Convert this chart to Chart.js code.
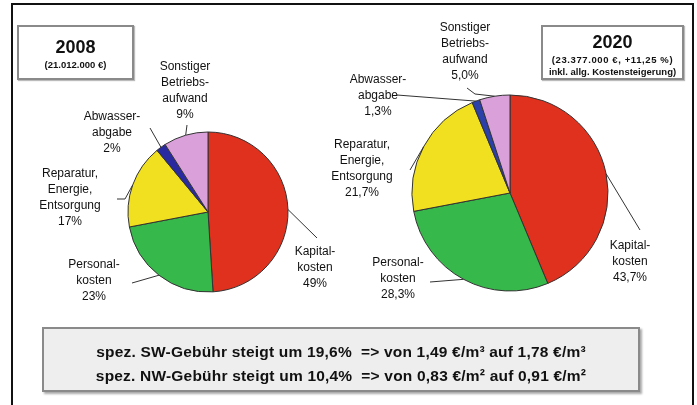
<!DOCTYPE html>
<html>
<head>
<meta charset="utf-8">
<script src="https://cdn.jsdelivr.net/npm/chart.js@4"></script>
<style>
  body { margin: 0; width: 697px; height: 405px; overflow: hidden; background: #fff; font-family: "Liberation Sans", Arial, sans-serif; position: relative; }
  canvas { position: absolute; left: 0; top: 0; }
  .frame { position: absolute; left: 11px; top: 3px; width: 679px; height: 420px; border: 2px solid #111; border-bottom: none; }
  .box { position: absolute; border: 2px solid #8a8a8a; background: #fff; box-shadow: 1px 1px 1px #bbb; }
  .box div { position: absolute; left: 0; right: 0; text-align: center; font-weight: bold; color: #111; white-space: nowrap; }
  .note { position: absolute; left: 42px; top: 327px; width: 594px; height: 50px; background: #eeeeee; border: 2px solid #8a8a8a; box-shadow: 2px 2px 2px #aaa; text-align: center; font-weight: bold; font-size: 15.5px; letter-spacing: 0.2px; line-height: 24px; color: #111; padding-top: 11px; box-sizing: content-box; white-space: nowrap; }
</style>
</head>
<body>
<div class="frame"></div>
<canvas id="pie2008" width="697" height="405"></canvas>
<canvas id="pie2020" width="697" height="405"></canvas>

<div class="box" style="left:17px;top:25px;width:113px;height:51px;">
  <div style="top:10px;font-size:18px;">2008</div>
  <div style="top:32px;font-size:9.5px;">(21.012.000 €)</div>
</div>
<div class="box" style="left:541px;top:25px;width:139px;height:51px;">
  <div style="top:5px;font-size:18px;">2020</div>
  <div style="top:27px;font-size:9.5px;letter-spacing:0.6px;">(23.377.000 €, +11,25 %)</div>
  <div style="top:39px;font-size:9.5px;">inkl. allg. Kostensteigerung)</div>
</div>

<div class="note">
  spez. SW-Gebühr steigt um 19,6% &nbsp;=&gt; von 1,49 €/m³ auf 1,78 €/m³<br>
  spez. NW-Gebühr steigt um 10,4% &nbsp;=&gt; von 0,83 €/m² auf 0,91 €/m²
</div>

<script>
const categories = [
  ["Kapital-", "kosten"],
  ["Personal-", "kosten"],
  ["Reparatur,", "Energie,", "Entsorgung"],
  ["Abwasser-", "abgabe"],
  ["Sonstiger", "Betriebs-", "aufwand"]
];
const values2008 = [49, 23, 17, 2, 9];
const labels2008 = ["49%", "23%", "17%", "2%", "9%"];
const values2020 = [43.7, 28.3, 21.7, 1.3, 5.0];
const labels2020 = ["43,7%", "28,3%", "21,7%", "1,3%", "5,0%"];

const colors2008 = ["#e0301e", "#36b84a", "#f0e020", "#2a2aa0", "#d9a0d9"];
const colors2020 = ["#e0301e", "#36b84a", "#f0e020", "#2b40a8", "#d9a0d9"];

// label placement, offsets from the pie centre (leader bends, text block centre)
const layout2008 = {
  lines: [[[109, 26]], [[-76, 71]], [[-83, -13], [-91, -13]], [[-58, -84]], [[-21, -87]]],
  text: [[107, 56], [-114, 69], [-138, -14], [-96, -79], [-23, -121]]
};
const layout2020 = {
  lines: [[[130, 37]], [[-80, 89]], [[-100, -23]], [[-113, -98]], [[-35, -99], [-43, -105]]],
  text: [[120, 69], [-112, 86], [-148, -24], [-132, -97], [-45, -141]]
};

const leaderLabels = {
  id: "leaderLabels",
  afterDraw(chart, args, opts) {
    const ctx = chart.ctx;
    const meta = chart.getDatasetMeta(0);
    ctx.save();
    ctx.font = "12px 'Liberation Sans', Arial, sans-serif";
    ctx.fillStyle = "#111";
    ctx.strokeStyle = "#333";
    ctx.lineWidth = 1;
    ctx.textAlign = "center";
    ctx.textBaseline = "middle";
    meta.data.forEach((arc, i) => {
      const p = arc.getProps(["x", "y", "startAngle", "endAngle", "outerRadius"], true);
      const mid = (p.startAngle + p.endAngle) / 2;
      ctx.beginPath();
      ctx.moveTo(p.x + Math.cos(mid) * p.outerRadius, p.y + Math.sin(mid) * p.outerRadius);
      opts.layout.lines[i].forEach(pt => ctx.lineTo(p.x + pt[0], p.y + pt[1]));
      ctx.stroke();
      const rows = categories[i].concat([opts.pct[i]]);
      const lh = 16;
      const tx = p.x + opts.layout.text[i][0];
      const ty = p.y + opts.layout.text[i][1] - (rows.length - 1) * lh / 2;
      rows.forEach((r, k) => ctx.fillText(r, tx, ty + k * lh));
    });
    ctx.restore();
  }
};

function makePie(id, values, colors, radius, padding, layout, pct) {
  return new Chart(document.getElementById(id), {
    type: "pie",
    data: {
      labels: categories.map(c => c.join(" ")),
      datasets: [{
        data: values,
        backgroundColor: colors,
        borderColor: "#333",
        borderWidth: 1,
        hoverOffset: 0
      }]
    },
    options: {
      responsive: false,
      animation: false,
      radius: radius,
      layout: { padding: padding },
      plugins: {
        legend: { display: false },
        tooltip: { enabled: false },
        leaderLabels: { layout: layout, pct: pct }
      }
    },
    plugins: [leaderLabels]
  });
}

makePie("pie2008", values2008, colors2008, 80, { left: 128, right: 409, top: 132, bottom: 113 }, layout2008, labels2008);
makePie("pie2020", values2020, colors2020, 98, { left: 412, right: 89, top: 95, bottom: 114 }, layout2020, labels2020);
</script>
</body>
</html>
